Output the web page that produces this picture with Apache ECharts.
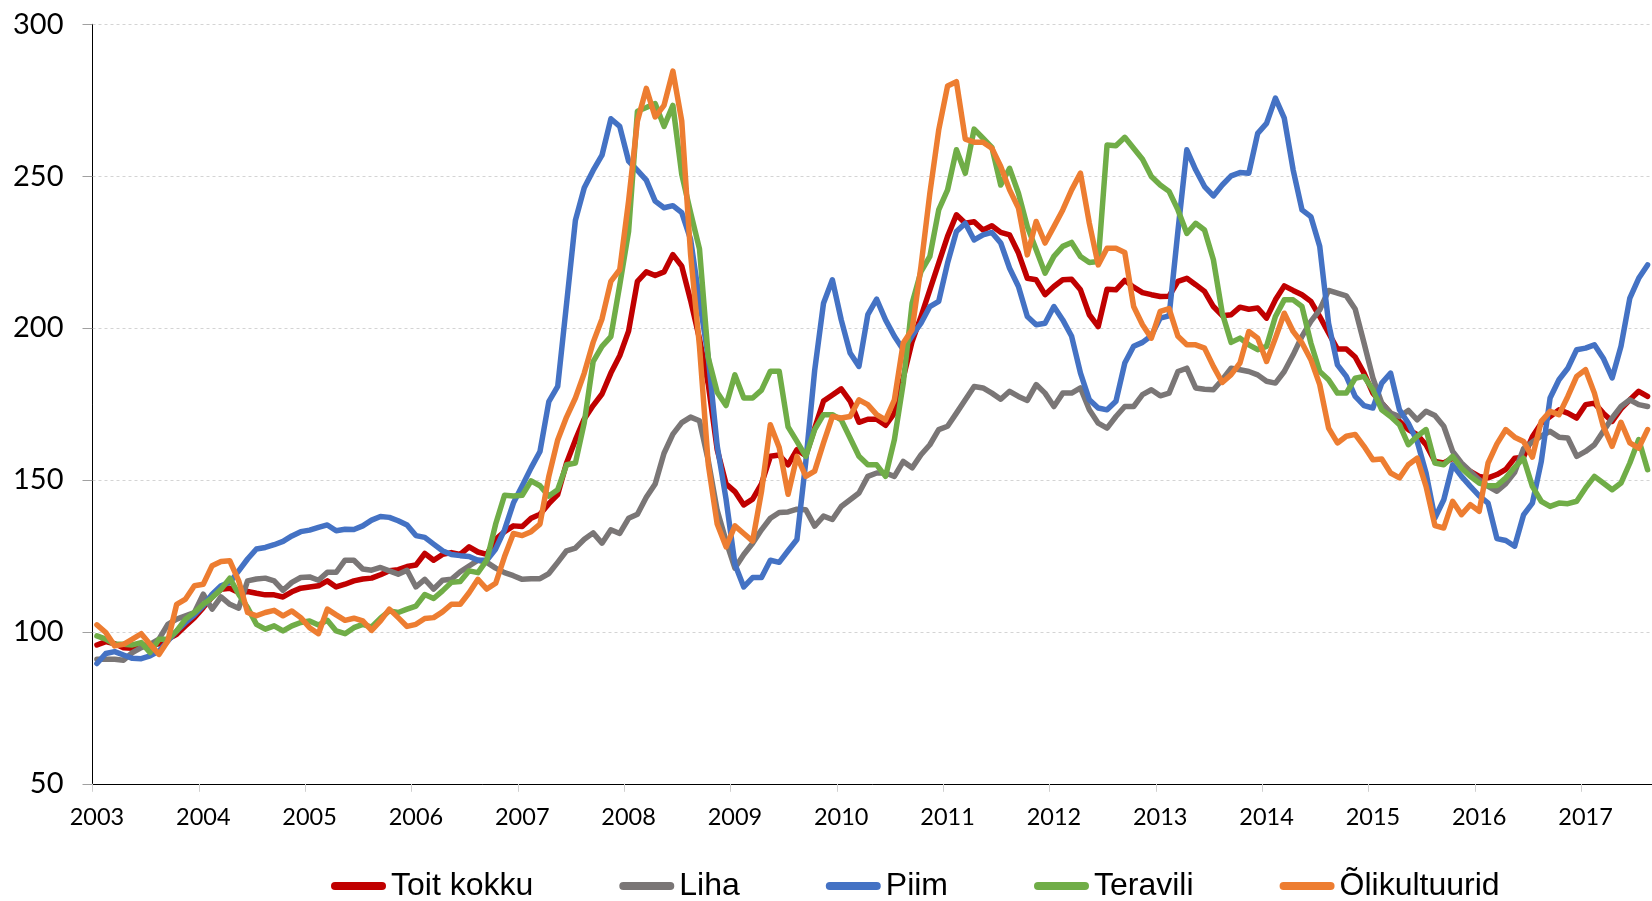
<!DOCTYPE html>
<html>
<head>
<meta charset="utf-8">
<script src="https://cdn.jsdelivr.net/npm/echarts@6/dist/echarts.min.js"></script>
<style>
html,body{margin:0;padding:0;background:#fff;}
#chart{width:1652px;height:901px;}
</style>
</head>
<body>
<div id="chart"></div>
<script>
// Monthly categories, Jan 2003 .. Aug 2017
const years = ['2003','2004','2005','2006','2007','2008','2009','2010','2011','2012','2013','2014','2015','2016','2017'];
const months = ['01','02','03','04','05','06','07','08','09','10','11','12'];
const categories = [];
years.forEach(y => months.forEach(m => categories.push(y + '-' + m)));
categories.length = 176;

const seriesNames = ['Toit kokku', 'Liha', 'Piim', 'Teravili', 'Õlikultuurid'];

const toitKokku = [
95.7,96.8,96.1,94.8,94.6,95.7,95.5,96.1,97.6,99.2,102,104.7,
108,111.5,114,114.4,113,113.3,112.7,112.2,112.2,111.5,113.2,114.4,
114.8,115.2,116.8,114.8,115.7,116.8,117.4,117.7,118.8,120.1,120.5,121.5,
122,125.8,123.6,125.5,126.1,125.5,128,126.3,125.5,130.5,133,134.9,
134.7,137.4,138.7,142.2,145.2,155.6,163.2,170.1,174.5,178.3,185.2,190.9,
199,215.4,218.5,217.3,218.5,224.2,220.4,209.1,196.5,181.4,160,148.7,
146.2,141.8,143.7,148.7,157.8,158.2,155,160,158,167,176,178,
180,176,169,170,170,168,172,183.6,195.6,203.8,212.6,221.4,
230.2,237.3,234.5,235,232.3,233.7,231.5,230.7,224.7,216.4,215.9,211,
213.7,215.9,216.1,212.6,204.4,200.5,212.8,212.6,215.7,213.5,211.7,211,
210.4,210.5,215.4,216.4,214.3,212.1,207.1,204.1,204.4,206.9,206.2,206.6,
203.3,209.3,213.9,212.4,211,208.8,203.8,198.4,193.1,193.1,190.5,185.2,
178.6,175.3,172,169.3,166.6,164.9,161.6,156.1,155.6,157.2,155,152.8,
151.2,150.7,151.8,153.5,157.2,157.5,164.2,168.7,170.9,173.1,172,170.4,
174.8,175.3,172,169.3,173.4,176.4,179.2,177.5
];

const liha = [
91,91,91,90.7,93.2,94.8,95.9,97.6,102.5,104.2,105.3,106.4,
112.4,107.5,111.5,109.1,107.8,116.8,117.4,117.7,116.8,113.7,116.3,117.9,
118.1,117,119.6,119.6,123.6,123.6,120.7,120.3,121.2,120.1,119,120.3,
114.8,117.3,114.1,117,117.3,119.8,121.7,123.6,122.9,121,119.5,118.5,
117.3,117.5,117.5,119.2,122.9,126.7,127.6,130.5,132.6,129.2,133.6,132.4,
137.4,138.7,144.3,148.7,158.8,165.1,168.9,170.7,169.5,156.3,140,129.9,
121,125.5,129.2,133.6,137.4,139.3,139.5,140.4,140.2,134.8,138.1,137,
141.3,143.5,145.7,151.2,152.3,152.3,151.2,156.1,154,158.3,161.6,166.6,
167.7,172,176.4,180.8,180.3,178.6,176.6,179.2,177.5,176.2,181.4,178.6,
174.2,178.6,178.6,180.3,173.1,168.7,167.1,170.9,174.2,174.2,178.1,179.7,
177.7,178.6,185.7,186.8,180.3,179.9,179.7,183,186.8,186.3,185.7,184.6,
182.5,181.9,185.7,191.2,197.3,202.2,206,212.4,211.5,210.6,206.3,195.1,
183.6,175.3,172,170.9,172.9,169.8,172.6,171.2,167.7,159.4,155.6,152.8,
150.1,147.9,146.3,148.8,152.5,160.3,162.5,164.5,166,164.1,163.8,157.8,
159.4,161.6,166,170.4,174.2,176.4,174.8,174.2
];

const piim = [
89.6,92.9,93.5,92.4,91.3,91.2,92.1,93.7,97,100.3,103.1,105.6,
108.6,112.4,115.2,116.3,120.1,124,127.3,127.8,128.7,129.8,131.6,133,
133.5,134.4,135.2,133.3,133.8,133.7,134.9,136.8,138,137.7,136.6,135.2,
131.7,131.1,128.9,126.7,125.5,125.1,124.8,123.6,123.6,127.3,133.6,142.4,
148.1,154,159.4,175.8,180.8,208,235.5,246.2,251.9,256.9,268.9,266.4,
255,251.9,248.7,241.8,239.6,240.3,238,229.2,209.1,190.2,161.3,143.7,
122.3,114.8,117.9,117.9,123.6,122.9,126.7,130.4,156,186,208.2,215.9,
202.7,191.8,187.4,204.4,209.5,202.7,197.3,192.9,197.5,201.6,207.1,208.8,
221.4,231.8,234.5,229,230.7,231.5,228,219.7,213.7,203.8,201.1,201.6,
207.1,202.7,197.3,185.2,176.4,173.7,173.1,175.9,188.5,194,195.3,197.5,
203.3,204,232,258.7,252.1,246.6,243.5,247.1,250.1,251.2,251,264.1,
267.4,275.7,269.1,252.1,238.9,236.7,226.9,201.6,187.9,184.1,177.5,174.5,
173.7,181.9,185.2,173.1,168.7,162.7,152.3,137.5,143.5,155,151.2,147.9,
144.8,142.4,130.7,130.1,128.2,138.5,142.4,156,177,183,186.8,192.9,
193.4,194.5,190.1,183.6,194,209.9,216.4,220.8
];

const teravili = [
98.7,97.6,95.9,95.9,95.7,96.5,93.2,97.6,97.6,100.3,104.2,106.4,
109.1,111.3,114,117.7,112.4,108,102.5,100.9,102,100.3,102,103.1,
103.6,102.3,103.8,100.3,99.4,101.4,102.5,101.6,104.5,106.9,106.4,107.5,
108.5,112.3,111,113.5,116.3,116.6,120.1,119.5,123.6,135.5,145,144.7,
145,149.7,148.1,144.7,146.8,155,155.6,168.9,189,194,197.2,214.1,
231.8,271.4,272.6,273.9,266.4,273.3,250.6,238,226.1,190.2,178.9,174.5,
184.6,177,177,179.6,185.8,185.8,167.5,162.7,157.8,166.6,171.5,171.5,
169.8,163.8,157.8,155,155,151.2,163.3,181.9,208.2,218.6,223.6,238.9,
245.5,258.7,251,265.5,262.5,259.5,247.1,252.6,244.4,233.4,225.8,218.1,
223.6,226.9,228.2,223.6,221.6,221.9,260.3,260,262.8,259.2,255.6,249.9,
247.1,245,238.9,231.2,234.5,232.3,222.5,204.9,195.3,196.7,194.5,192.9,
194,203.8,209.3,209.3,207.1,195.1,185.7,183,178.6,178.6,183.5,184.1,
179.7,173.1,170.9,168.2,161.6,164.4,166.6,155.6,155,157.8,153.9,151.2,
149,148.1,148.2,150.7,154.2,157.2,147.9,143,141.3,142.4,142.2,143,
147.4,151.2,149,146.8,149,155.6,163.3,153.4
];

const olikultuurid = [
102.3,99.8,95.4,95.9,97.6,99.4,95.9,92.6,97,109.1,110.8,115.2,
115.7,121.8,123.2,123.4,116.8,106.4,105.3,106.4,107.1,105.3,106.9,104.7,
101.4,99.4,107.5,105.6,103.8,104.5,103.6,100.5,103.6,107.5,104.7,101.8,
102.5,104.4,104.7,106.6,109.1,109.1,112.9,117.3,114.1,116,124.8,132.4,
131.7,133,135.5,151.2,163.2,170.7,177,185.2,195.3,203,215.4,219.2,
241.8,268.2,278.9,269.5,273.3,284.6,268.2,224.2,194,155,135.5,128,
134.9,132.4,129.9,146.2,168.2,160.7,145.3,157.8,151.2,152.9,162.2,170.9,
170.4,170.9,176.4,174.8,171.5,169.8,176.4,195.1,199.5,220.3,244.4,265.2,
279.7,281.1,262.2,261.2,261.2,259.2,253.2,245.5,239.5,224.1,235.1,228,
233.4,238.9,245.5,251,234.5,220.8,226.3,226.3,224.9,207.1,201.1,196.7,
205.5,206.4,197.3,194.5,194.5,193.4,187.4,182.1,184.7,188.5,198.9,196.7,
189,196.7,204.9,198.9,195.1,189.6,181.4,167.1,162.2,164.4,165,161.1,
156.7,156.9,152.3,150.7,155,157.2,147.9,135,134.2,143,138.6,141.9,
139.7,155.6,161.9,166.6,164.1,162.7,157.5,169.3,172.6,171.5,177.5,184.1,
186.3,178.6,167.7,161.1,169,162.2,160.5,166.6
];

const seriesData = [toitKokku, liha, piim, teravili, olikultuurid];
const colors = ['#C00000', '#7A7676', '#4472C4', '#70AD47', '#ED7D31'];

const chart = echarts.init(document.getElementById('chart'), null, {renderer: 'canvas'});
chart.setOption({
  animation: false,
  backgroundColor: '#ffffff',
  color: colors,
  grid: {left: 92.5, right: -4.3, top: 24.3, bottom: 117.2, containLabel: false},
  legend: {
    left: 326,
    top: 865,
    itemWidth: 55,
    itemHeight: 8,
    itemGap: 86,
    icon: 'path://M4,0 L51,0 A4,4 0 0 1 51,8 L4,8 A4,4 0 0 1 4,0 Z',
    textStyle: {fontFamily: 'Liberation Sans, Arial, sans-serif', fontSize: 32, color: '#000'},
    data: seriesNames
  },
  xAxis: {
    type: 'category',
    data: categories,
    boundaryGap: true,
    axisLine: {lineStyle: {color: '#000', width: 1}},
    axisTick: {show: true, interval: 11, length: 8, lineStyle: {color: '#d0d0d0'}},
    axisLabel: {
      interval: 11,
      margin: 22,
      hideOverlap: false,
      fontFamily: 'Lato, Calibri, sans-serif',
      fontSize: 23.5,
      color: '#000',
      formatter: v => v.slice(0, 4)
    },
    splitLine: {show: false}
  },
  yAxis: {
    type: 'value',
    min: 50,
    max: 300,
    interval: 50,
    axisLine: {show: true, lineStyle: {color: '#000', width: 1}},
    axisTick: {show: true, length: 10, lineStyle: {color: '#a0a0a0'}},
    axisLabel: {margin: 29, fontFamily: 'Lato, Calibri, sans-serif', fontSize: 29, color: '#000'},
    splitLine: {show: true, lineStyle: {color: '#d4d4d4', type: [3, 3], width: 1}}
  },
  series: seriesNames.map((name, k) => ({
    name: name,
    type: 'line',
    data: seriesData[k],
    showSymbol: false,
    symbol: 'none',
    smooth: false,
    lineStyle: {width: 5.5, color: colors[k], cap: 'round', join: 'round'},
    itemStyle: {color: colors[k]},
    z: 2 + k
  }))
});
</script>
</body>
</html>
